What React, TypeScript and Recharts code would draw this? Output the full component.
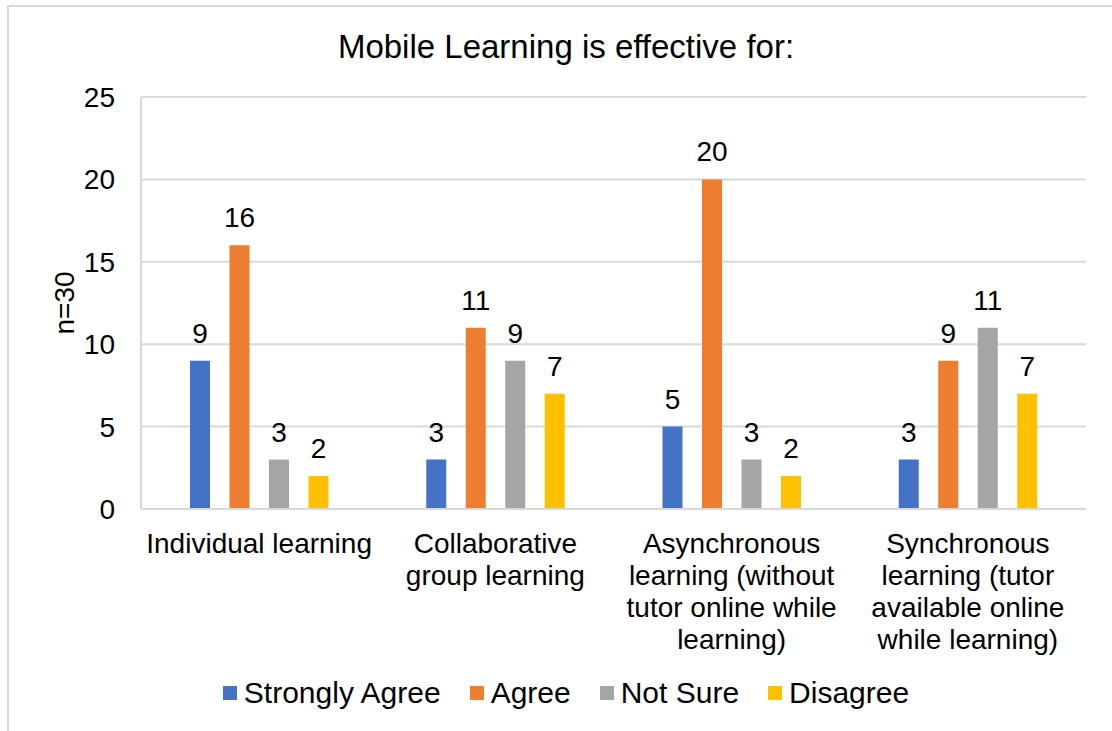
import React from 'react';
import { BarChart, Bar, XAxis, YAxis, CartesianGrid, Legend, LabelList } from 'recharts';

const categories = [
  'Individual learning',
  'Collaborative\ngroup learning',
  'Asynchronous\nlearning (without\ntutor online while\nlearning)',
  'Synchronous\nlearning (tutor\navailable online\nwhile learning)',
];
const stronglyAgree = [9, 3, 5, 3];
const agree = [16, 11, 20, 9];
const notSure = [3, 9, 3, 11];
const disagree = [2, 7, 2, 7];
const yTicks = [0, 5, 10, 15, 20, 25];

const series = [
  { key: 'stronglyAgree', name: 'Strongly Agree', color: '#4472C4' },
  { key: 'agree', name: 'Agree', color: '#ED7D31' },
  { key: 'notSure', name: 'Not Sure', color: '#A5A5A5' },
  { key: 'disagree', name: 'Disagree', color: '#FFC000' },
];

const data = categories.map((c, i) => ({
  category: c,
  stronglyAgree: stronglyAgree[i],
  agree: agree[i],
  notSure: notSure[i],
  disagree: disagree[i],
}));

const FONT = '"Liberation Sans", Arial, sans-serif';
const GRID = '#D9D9D9';

const CategoryTick = (props: any) => {
  const { x, y, payload } = props;
  const lines = String(payload.value).split('\n');
  return (
    <text x={x} y={y + 44} textAnchor="middle" fill="#000" fontSize={28} fontFamily={FONT}>
      {lines.map((ln, i) => (
        <tspan key={i} x={x} dy={i === 0 ? 0 : 32}>
          {ln}
        </tspan>
      ))}
    </text>
  );
};

const YLabel = (props: any) => {
  const vb = props.viewBox || {};
  const cx = vb.x + 35;
  const cy = vb.y + vb.height / 2;
  return (
    <text
      x={cx}
      y={cy}
      textAnchor="middle"
      dominantBaseline="central"
      fontSize={28}
      fontFamily={FONT}
      fill="#000"
      transform={`rotate(-90 ${cx} ${cy})`}
    >
      n=30
    </text>
  );
};

const LegendContent = () => (
  <div
    style={{
      display: 'flex',
      justifyContent: 'center',
      alignItems: 'center',
      height: 34,
      gap: 29,
      paddingLeft: 17,
      fontFamily: FONT,
      fontSize: 30,
      color: '#000',
    }}
  >
    {series.map((s) => (
      <div key={s.key} style={{ display: 'flex', alignItems: 'center' }}>
        <span style={{ width: 14, height: 14, background: s.color, display: 'inline-block', marginRight: 7 }} />
        <span>{s.name}</span>
      </div>
    ))}
  </div>
);

export default function App() {
  return (
    <div
      style={{
        position: 'absolute',
        left: 7,
        top: 5,
        width: 1103,
        height: 724,
        borderLeft: `2px solid ${GRID}`,
        borderTop: `2px solid ${GRID}`,
        background: '#fff',
        fontFamily: FONT,
      }}
    >
      <div
        style={{
          position: 'absolute',
          left: 0,
          top: 24,
          width: 1114,
          textAlign: 'center',
          fontSize: 33,
          lineHeight: '32px',
          color: '#000',
        }}
      >
        Mobile Learning is effective for:
      </div>
      <BarChart
        width={1103}
        height={724}
        data={data}
        margin={{ top: 90, right: 26, left: 20, bottom: 21 }}
        barSize={20}
        barGap={19.5}
        barCategoryGap={48}
      >
        <CartesianGrid vertical={false} stroke={GRID} strokeWidth={2} />
        <XAxis
          dataKey="category"
          height={167}
          axisLine={{ stroke: GRID, strokeWidth: 2 }}
          tickLine={false}
          tickSize={0}
          tickMargin={0}
          interval={0}
          tick={<CategoryTick />}
        />
        <YAxis
          width={112}
          domain={[0, 25]}
          ticks={yTicks}
          axisLine={{ stroke: GRID, strokeWidth: 2 }}
          tickLine={false}
          tickSize={0}
          tickMargin={26}
          tick={{ fill: '#000', fontSize: 28, fontFamily: FONT }}
          label={<YLabel />}
        />
        <YAxis
          yAxisId="r"
          orientation="right"
          width={0}
          domain={[0, 25]}
          ticks={yTicks}
          tick={false}
          tickLine={false}
          axisLine={{ stroke: GRID, strokeWidth: 2 }}
        />
        <Legend verticalAlign="bottom" height={34} content={<LegendContent />} />
        {series.map((s) => (
          <Bar key={s.key} dataKey={s.key} name={s.name} fill={s.color} isAnimationActive={false}>
            <LabelList
              dataKey={s.key}
              position="top"
              offset={18}
              fill="#000"
              fontSize={28}
              fontFamily={FONT}
            />
          </Bar>
        ))}
      </BarChart>
    </div>
  );
}
